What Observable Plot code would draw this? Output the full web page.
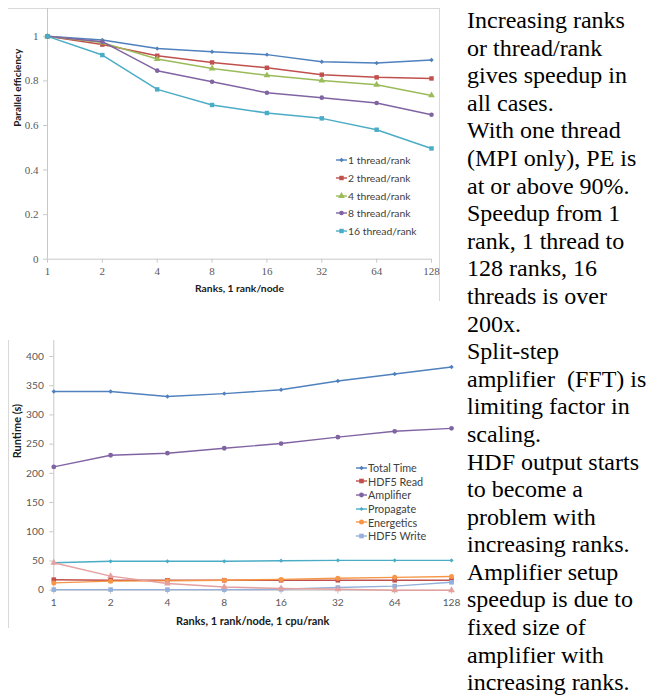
<!DOCTYPE html>
<html>
<head>
<meta charset="utf-8">
<script src="https://cdn.jsdelivr.net/npm/d3@7"></script>
<script src="https://cdn.jsdelivr.net/npm/@observablehq/plot@0.6"></script>
<style>
html, body { margin: 0; padding: 0; background: #fff; }
#page { position: relative; width: 647px; height: 698px; overflow: hidden; background: #fff; }
#chart1 { position: absolute; left: 0; top: 0; }
#chart2 { position: absolute; left: 0; top: 330px; }
#chart1 svg, #chart2 svg { display: block; overflow: hidden; }
.frame { position: absolute; border-color: #d9d9d9; border-style: solid; border-width: 0; }
.legend { position: absolute; font-family: Lato, sans-serif; color: #404040; }
.legend .row { display: flex; align-items: center; white-space: nowrap; }
.legend svg { display: block; flex: none; }
#notes { position: absolute; left: 467px; top: 7px;
  font-family: "Liberation Serif", Tinos, "Times New Roman", Times, "DejaVu Serif", serif;
  font-size: 24px; line-height: 27.6px; color: #000; white-space: nowrap; }
</style>
</head>
<body>
<div id="page">
  <div class="frame" style="left:8px;top:8px;width:431px;height:292px;border-top-width:1px;border-right-width:1px;"></div>
  <div class="frame" style="left:8px;top:340px;width:1px;height:288px;border-left-width:1px;"></div>
  <div id="chart1"></div>
  <div id="chart2"></div>
  <div id="legend1" class="legend" style="left:336px;top:151.5px;font-size:10.4px;"></div>
  <div id="legend2" class="legend" style="left:356px;top:461px;font-size:10.8px;"></div>
  <div id="notes"></div>
</div>
<script>
// ---------- Data ----------
const ranks = [1, 2, 4, 8, 16, 32, 64, 128];

// Chart 1: parallel efficiency
const threadLabels = ["1 thread/rank", "2 thread/rank", "4 thread/rank", "8 thread/rank", "16 thread/rank"];
const pe1 = [1.000, 0.984, 0.945, 0.931, 0.918, 0.886, 0.880, 0.894];
const pe2 = [1.000, 0.963, 0.913, 0.883, 0.859, 0.828, 0.816, 0.811];
const pe4 = [1.000, 0.972, 0.898, 0.856, 0.825, 0.802, 0.783, 0.735];
const pe8 = [1.000, 0.976, 0.846, 0.796, 0.747, 0.725, 0.701, 0.648];
const pe16 = [1.000, 0.916, 0.762, 0.692, 0.656, 0.632, 0.581, 0.497];
const peTicks = [0, 0.2, 0.4, 0.6, 0.8, 1];

// Chart 2: runtime
const runtimeLabels = ["Total Time", "HDF5 Read", "Amplifier", "Propagate", "Energetics", "HDF5 Write"];
const totalTime = [340, 340, 331.5, 336.5, 343, 358, 370, 382];
const hdf5Read = [18, 17, 17, 17, 17, 17, 17, 17];
const amplifier = [211, 231, 234.5, 243, 251, 262, 272, 277];
const propagate = [47, 49.5, 49.5, 49.5, 50.5, 51, 51, 51];
const energetics = [12.5, 15.5, 16, 17, 18.5, 20.5, 22, 23.5];
const hdf5Write = [1, 1, 1, 1, 1.5, 4.5, 7, 13.5];
const amplifierSetup = [47, 24, 11.5, 5.5, 3, 1.5, 0, 0]; // 7th series, not in legend
const runtimeTicks = [0, 50, 100, 150, 200, 250, 300, 350, 400];

const xTitle1 = "Ranks, 1 rank/node";
const yTitle1 = "Parallel efficiency";
const xTitle2 = "Ranks, 1 rank/node, 1 cpu/rank";
const yTitle2 = "Runtime (s)";

const notesLines = [
  "Increasing ranks", "or thread/rank", "gives speedup in", "all cases.",
  "With one thread", "(MPI only), PE is", "at or above 90%.",
  "Speedup from 1", "rank, 1 thread to", "128 ranks, 16", "threads is over", "200x.",
  "Split-step", "amplifier\u00a0 (FFT) is", "limiting factor in", "scaling.",
  "HDF output starts", "to become a", "problem with", "increasing ranks.",
  "Amplifier setup", "speedup is due to", "fixed size of", "amplifier with", "increasing ranks."
];

// ---------- Styles ----------
const peStyle = [
  {color: "#4F81BD", symbol: "diamond2", r: 2.0},
  {color: "#C0504D", symbol: "square", r: 2.5},
  {color: "#9BBB59", symbol: "triangle", r: 2.5},
  {color: "#8064A2", symbol: "circle", r: 2.3},
  {color: "#4BACC6", symbol: "square", r: 2.5}
];
const rtStyle = [
  {color: "#4F81BD", symbol: "diamond2", r: 2.0},
  {color: "#C0504D", symbol: "square", r: 2.6},
  {color: "#8064A2", symbol: "circle", r: 2.4},
  {color: "#4BACC6", symbol: "diamond2", r: 1.9},
  {color: "#F79646", symbol: "circle", r: 2.5},
  {color: "#95B0DA", symbol: "square", r: 2.6},
  {color: "#E3A09E", symbol: "triangle", r: 2.5}
];

const axisGray = "#c8c8c8";
const tickText = "#595959";
const serifFont = "'Liberation Serif', Tinos, 'Times New Roman', Times, 'DejaVu Serif', serif";

function seriesTable(seriesList) {
  return seriesList.map(vals => vals.map((v, j) => ({rank: ranks[j], value: v})));
}

function seriesMarks(tables, styles, strokeWidth) {
  return tables.flatMap((t, i) => [
    Plot.line(t, {x: "rank", y: "value", stroke: styles[i].color, strokeWidth}),
    Plot.dot(t, {x: "rank", y: "value", symbol: styles[i].symbol, r: styles[i].r, fill: styles[i].color, stroke: "none"})
  ]);
}

// ---------- Chart 1 ----------
const peTables = seriesTable([pe1, pe2, pe4, pe8, pe16]);
const chart1 = Plot.plot({
  width: 442, height: 300,
  marginLeft: 47, marginRight: 11, marginTop: 8, marginBottom: 41.3,
  style: {fontFamily: serifFont, fontSize: "11px", background: "transparent", overflow: "hidden"},
  x: {type: "log", base: 2, domain: [1, 128]},
  y: {domain: [0, 1.125]},
  marks: [
    Plot.ruleY([0], {stroke: axisGray}),
    Plot.ruleX([1], {stroke: axisGray}),
    Plot.axisX(ranks, {tickFormat: d => String(d), tickSize: 4, tickPadding: 4, stroke: axisGray, fill: tickText, label: null, fontFamily: serifFont}),
    Plot.axisY(peTicks, {tickFormat: d => String(d), tickSize: 4, tickPadding: 5, stroke: axisGray, fill: tickText, label: null, fontFamily: serifFont}),
    ...seriesMarks(peTables, peStyle, 1.5),
    Plot.text([xTitle1], {frameAnchor: "bottom", lineAnchor: "middle", dy: 29.5, fontFamily: "Lato, sans-serif", fontWeight: "bold", fontSize: 10.3, fill: "#1a1a1a"}),
    Plot.text([yTitle1], {frameAnchor: "left", rotate: -90, lineAnchor: "middle", dx: -30, dy: -7, fontFamily: "Lato, sans-serif", fontWeight: "bold", fontSize: 10, fill: "#1a1a1a"})
  ]
});
document.getElementById("chart1").appendChild(chart1);

// ---------- Chart 2 ----------
const rtTables = seriesTable([totalTime, hdf5Read, amplifier, propagate, energetics, hdf5Write, amplifierSetup]);
const chart2 = Plot.plot({
  width: 462, height: 300,
  marginLeft: 53.3, marginRight: 11, marginTop: 10, marginBottom: 40.3,
  style: {fontFamily: "Lato, sans-serif", fontSize: "10.2px", background: "transparent", overflow: "hidden"},
  x: {type: "log", base: 2, domain: [1, 128]},
  y: {domain: [0, 427.4]},
  marks: [
    Plot.ruleY([0], {stroke: axisGray}),
    Plot.ruleX([1], {stroke: axisGray}),
    Plot.axisX(ranks, {tickFormat: d => String(d), tickSize: 4, tickPadding: 5, stroke: axisGray, fill: tickText, label: null}),
    Plot.axisY(runtimeTicks, {tickFormat: d => String(d), tickSize: 4, tickPadding: 6, stroke: axisGray, fill: tickText, label: null}),
    ...seriesMarks(rtTables, rtStyle, 1.4),
    Plot.text([xTitle2], {frameAnchor: "bottom", lineAnchor: "middle", dy: 31, fontWeight: "bold", fontSize: 11, fill: "#1a1a1a"}),
    Plot.text([yTitle2], {frameAnchor: "left", rotate: -90, lineAnchor: "middle", dx: -36, dy: -7, fontWeight: "bold", fontSize: 11, fill: "#1a1a1a"})
  ]
});
document.getElementById("chart2").appendChild(chart2);

// ---------- Legends ----------
const d3Sym = {diamond2: d3.symbolDiamond2, square: d3.symbolSquare, triangle: d3.symbolTriangle, circle: d3.symbolCircle};
function buildLegend(id, labels, styles, rowH) {
  const el = document.getElementById(id);
  labels.forEach((lab, i) => {
    const s = styles[i];
    const row = document.createElement("div");
    row.className = "row";
    row.style.height = rowH + "px";
    const path = d3.symbol(d3Sym[s.symbol], Math.PI * s.r * s.r)();
    row.innerHTML = `<svg width="11" height="8" viewBox="0 0 11 8"><line x1="0" x2="11" y1="4" y2="4" stroke="${s.color}" stroke-width="1.4"/><path transform="translate(5.5,4)" d="${path}" fill="${s.color}"/></svg><span style="margin-left:1px">${lab}</span>`;
    el.appendChild(row);
  });
}
buildLegend("legend1", threadLabels, peStyle, 17.7);
buildLegend("legend2", runtimeLabels, rtStyle, 13.6);

// ---------- Notes ----------
document.getElementById("notes").innerHTML = notesLines.map(l => l.replace(/&/g, "&amp;").replace(/</g, "&lt;")).join("<br>");
</script>
</body>
</html>
